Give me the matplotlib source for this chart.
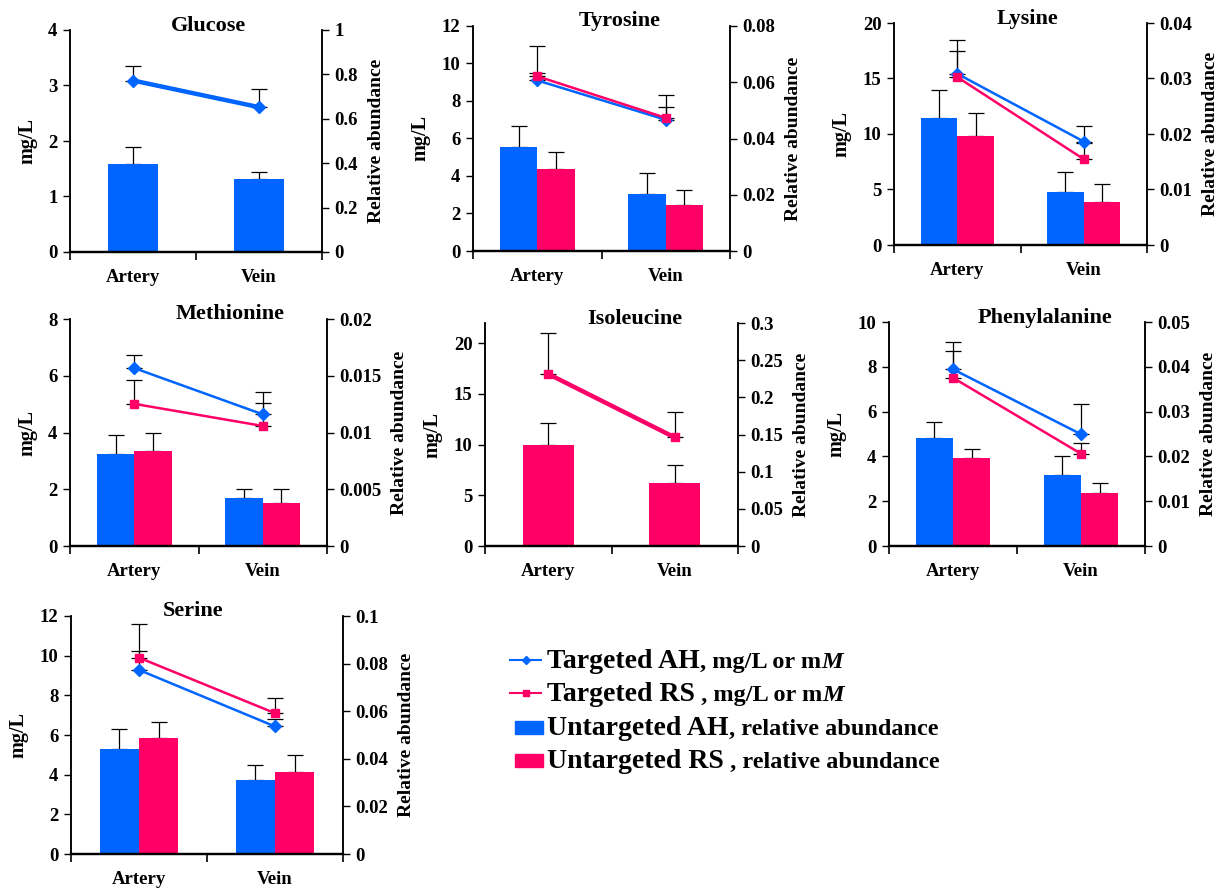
import matplotlib
matplotlib.use("Agg")
import matplotlib.pyplot as plt
from matplotlib.lines import Line2D
from matplotlib.patches import Rectangle
from matplotlib.ticker import FuncFormatter, FixedLocator
import numpy as np

plt.rcParams['font.family'] = ['Liberation Serif', 'DejaVu Serif']
plt.rcParams['font.weight'] = 'bold'

# ---------------------------------------------------
# data (lines: mg/L on left axis, bars: relative abundance on right axis)
# ---------------------------------------------------
sites = ["Artery", "Vein"]
panels = ["Glucose", "Tyrosine", "Lysine", "Methionine", "Isoleucine",
          "Phenylalanine", "Serine"]

ah_line = [[3.09, 2.61], [9.10, 7.00], [15.43, 9.32], [6.27, 4.64], None,
           [7.89, 4.99], [9.28, 6.43]]
ah_line_sd = [[0.27, 0.32], [0.40, 0.68], [3.07, 1.42], [0.46, 0.80], None,
              [1.20, 1.33], [0.97, 0.40]]
rs_line = [None, [9.32, 7.10], [15.13, 7.73], [5.01, 4.23], [16.97, 10.71],
           [7.51, 4.12], [9.90, 7.10]]
rs_line_sd = [None, [1.60, 1.20], [2.31, 1.50], [0.84, 0.80], [4.08, 2.54],
              [1.20, 0.50], [1.68, 0.75]]

ah_bar = [[0.395, 0.328], [0.0370, 0.0204], [0.0229, 0.0096], [0.0081, 0.0042],
          None, [0.0240, 0.0159], [0.0442, 0.0309]]
ah_bar_sd = [[0.078, 0.032], [0.0075, 0.0075], [0.0051, 0.0036], [0.0017, 0.00084],
             None, [0.0037, 0.0042], [0.0083, 0.0067]]
rs_bar = [None, [0.0293, 0.0164], [0.0197, 0.0077], [0.0084, 0.0038],
          [0.1353, 0.0854], [0.0197, 0.0118], [0.0487, 0.0343]]
rs_bar_sd = [None, [0.0059, 0.0054], [0.0041, 0.0033], [0.0016, 0.0012],
             [0.0301, 0.0233], [0.0020, 0.0022], [0.0066, 0.0074]]

# axis limits / ticks per panel
left_lim = [4, 12, 20, 8, 22, 10, 12]
left_step = [1, 2, 5, 2, 5, 2, 2]
right_lim = [1, 0.08, 0.04, 0.02, 0.3, 0.05, 0.1]
right_step = [0.2, 0.02, 0.01, 0.005, 0.05, 0.01, 0.02]

# ---------------------------------------------------
# layout (pixels: left, right, top, bottom)
# ---------------------------------------------------
W, H = 1232, 888
boxes = [(70, 322, 30, 252), (473, 730, 26, 251), (894, 1147, 23, 245),
         (70, 327, 319, 546), (485, 738, 323, 546), (889, 1145, 322, 546),
         (71, 343, 616, 854)]
title_x = [0.548, 0.572, 0.526, 0.623, 0.593, 0.61, 0.449]

BLUE = '#0064FF'
RED = '#FF0066'
FS = 13.5

fig = plt.figure(figsize=(W / 100, H / 100), dpi=100)
fmt = FuncFormatter(lambda v, p: f'{v:g}')

for i, name in enumerate(panels):
    l, r, t, b = boxes[i]
    ax = fig.add_axes([l / W, 1 - b / H, (r - l) / W, (b - t) / H])
    ax2 = ax.twinx()
    ax.set_zorder(ax2.get_zorder() + 1)
    ax.patch.set_visible(False)

    x = np.arange(len(sites))
    single = (ah_bar[i] is None) or (rs_bar[i] is None)

    # bars on the right axis
    if single:
        vals = ah_bar[i] if ah_bar[i] is not None else rs_bar[i]
        sds = ah_bar_sd[i] if ah_bar[i] is not None else rs_bar_sd[i]
        col = BLUE if ah_bar[i] is not None else RED
        ax2.bar(x, vals, width=0.4, color=col, zorder=2)
        ax2.errorbar(x, vals, yerr=[[0, 0], sds], fmt='none', ecolor='black',
                     elinewidth=0.9, capsize=6, capthick=0.9, zorder=1)
    else:
        w = 0.29
        for vals, sds, col, off in [(ah_bar[i], ah_bar_sd[i], BLUE, -w / 2),
                                    (rs_bar[i], rs_bar_sd[i], RED, w / 2)]:
            ax2.bar(x + off, vals, width=w, color=col, zorder=2)
            ax2.errorbar(x + off, vals, yerr=[[0, 0], sds], fmt='none',
                         ecolor='black', elinewidth=0.9, capsize=6,
                         capthick=0.9, zorder=1)

    # lines on the left axis
    lw = 3.2 if single else 1.8
    order = [(ah_line[i], ah_line_sd[i], BLUE, 'D', 6),
             (rs_line[i], rs_line_sd[i], RED, 's', 5.5)]
    for vals, sds, col, mk, ms in order:
        if vals is None:
            continue
        ax.errorbar(x, vals, yerr=[[0, 0], sds], fmt='none', ecolor='black',
                    elinewidth=0.9, capsize=6, capthick=0.9, zorder=2)
        ax.plot(x, vals, color=col, lw=lw, marker=mk, ms=ms, zorder=3)

    ax.set_xlim(-0.5, 1.5)
    ax.set_ylim(0, left_lim[i])
    ax2.set_ylim(0, right_lim[i])
    ax.set_yticks(np.arange(0, left_lim[i] + 1e-9, left_step[i]))
    ax2.set_yticks(np.arange(0, right_lim[i] + 1e-12, right_step[i]))
    ax.yaxis.set_major_formatter(fmt)
    ax2.yaxis.set_major_formatter(fmt)

    ax.xaxis.set_major_locator(FixedLocator([-0.5, 0.5, 1.5]))
    ax.xaxis.set_minor_locator(FixedLocator(x))
    ax.set_xticklabels([], minor=False)
    ax.set_xticklabels(sites, minor=True, fontsize=FS, fontweight='bold')
    ax.tick_params(axis='x', which='major', direction='out', length=6, width=1.2)
    ax.tick_params(axis='x', which='minor', length=0, pad=12)
    ax.tick_params(axis='y', direction='out', length=5, width=1, labelsize=FS, pad=4)
    ax2.tick_params(axis='y', direction='out', length=5, width=1, labelsize=FS, pad=4)

    for a in (ax, ax2):
        a.spines['top'].set_visible(False)
        a.spines['left'].set_linewidth(1.1)
        a.spines['right'].set_linewidth(1.1)
        a.spines['bottom'].set_linewidth(1.6)

    ax.set_ylabel('mg/L', fontsize=14.5, fontweight='bold', labelpad=8)
    ax2.set_ylabel('Relative abundance', fontsize=14, fontweight='bold', labelpad=7)

    ax.text(title_x[i], 1.02, name, transform=ax.transAxes, ha='center',
            va='center', fontsize=16, fontweight='bold')

# ---------------------------------------------------
# legend built by hand (two font sizes per entry)
# ---------------------------------------------------
renderer = fig.canvas.get_renderer()
rows = [
    ('line', BLUE, 'D', 'Targeted AH', ', mg/L or m'),
    ('line', RED, 's', 'Targeted RS', ' , mg/L or m'),
    ('rect', BLUE, None, 'Untargeted AH', ', relative abundance'),
    ('rect', RED, None, 'Untargeted RS', ' , relative abundance'),
]
row_y = [660, 693, 727, 760]
for (kind, col, mk, big, small), yc in zip(rows, row_y):
    yf = 1 - yc / H
    if kind == 'line':
        fig.add_artist(Line2D([510 / W, 541 / W], [yf, yf], color=col, lw=1.5,
                              transform=fig.transFigure))
        fig.add_artist(Line2D([525.5 / W], [yf], color=col, marker=mk, ms=4,
                              transform=fig.transFigure))
    else:
        fig.add_artist(Rectangle((515 / W, yf - 6.5 / H), 28 / W, 13 / H,
                                 color=col, transform=fig.transFigure))
    yb = 1 - (yc + 8) / H
    t1 = fig.text(547 / W, yb, big, fontsize=20, fontweight='bold', va='baseline')
    bb = t1.get_window_extent(renderer)
    t2 = fig.text(bb.x1 / W, yb, small, fontsize=17.5, fontweight='bold', va='baseline')
    if kind == 'line':
        bb2 = t2.get_window_extent(renderer)
        fig.text(bb2.x1 / W, yb, 'M', fontsize=17.5, fontweight='bold',
                 style='italic', va='baseline')

fig.savefig('out.png', dpi=100)
